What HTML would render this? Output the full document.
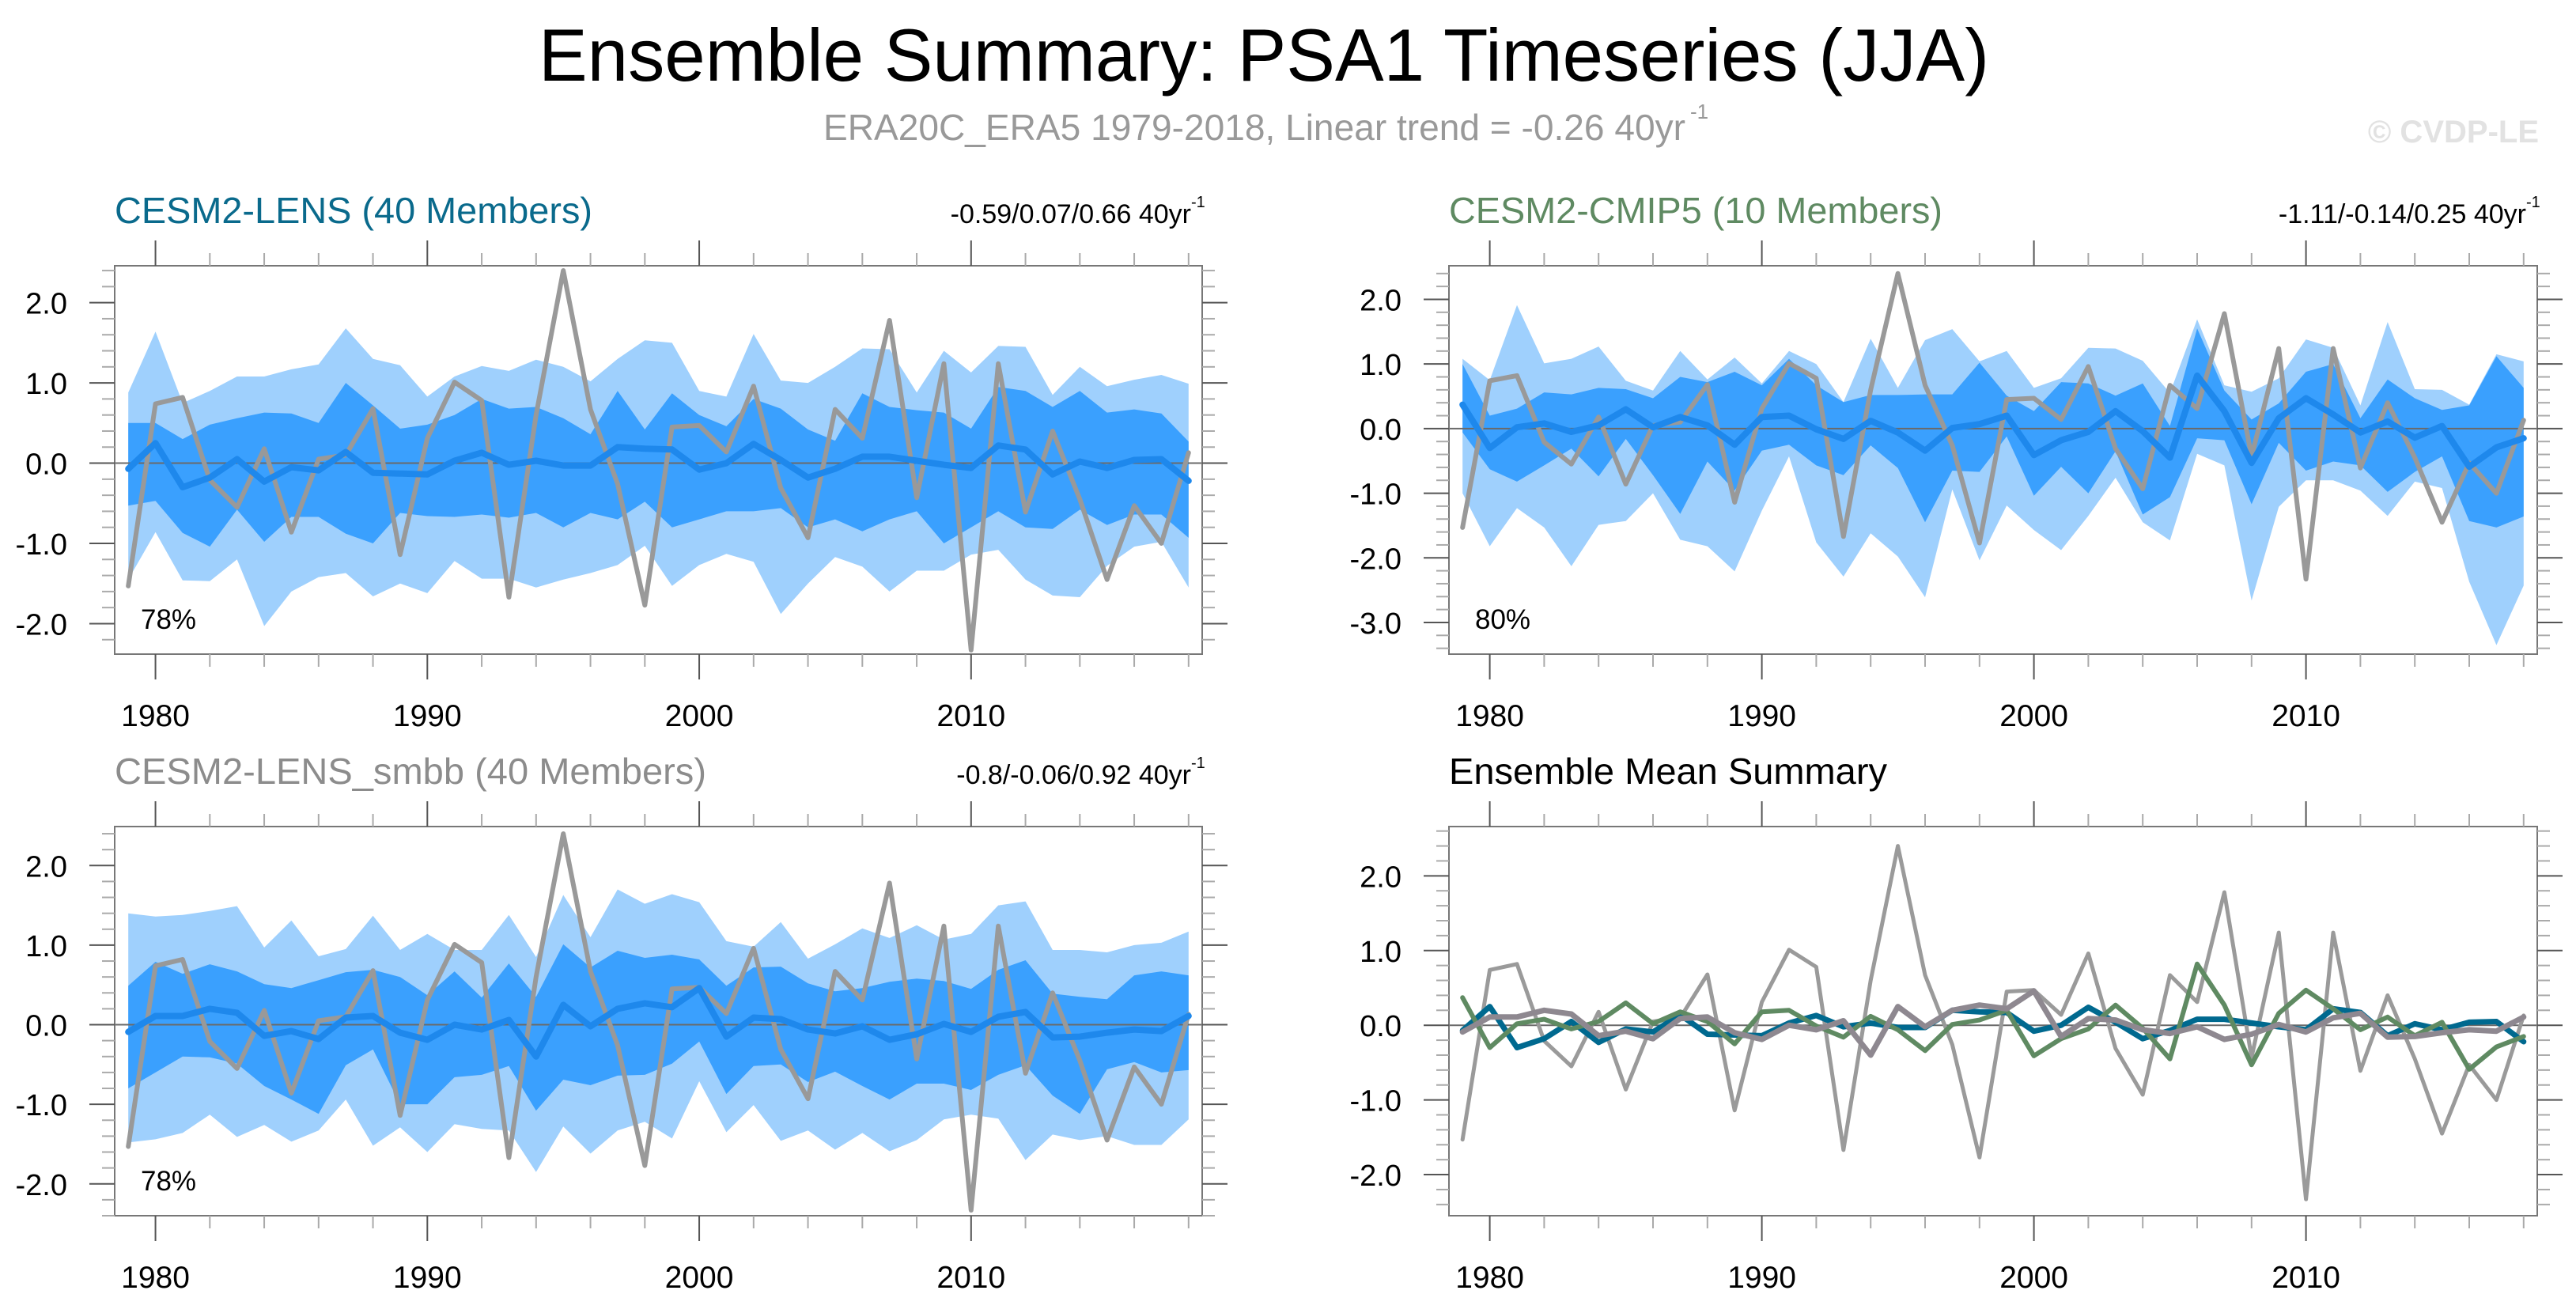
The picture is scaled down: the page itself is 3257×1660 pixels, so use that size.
<!DOCTYPE html>
<html><head><meta charset="utf-8"><style>
html,body{margin:0;padding:0;background:#fff;}
svg{display:block;font-family:"Liberation Sans",sans-serif;}
</style></head><body>
<svg id="chart" width="3257" height="1660" viewBox="0 0 3257 1660" xmlns="http://www.w3.org/2000/svg">
<text x="1598" y="102" font-size="94" text-anchor="middle" textLength="1834" lengthAdjust="spacingAndGlyphs">Ensemble Summary: PSA1 Timeseries (JJA)</text>
<text x="1041" y="177" font-size="46" fill="#999999" textLength="1090" lengthAdjust="spacingAndGlyphs">ERA20C_ERA5 1979-2018, Linear trend = -0.26 40yr</text>
<text x="2137" y="150" font-size="26" fill="#999999">-1</text>
<text x="3210" y="180" font-size="40" font-weight="bold" fill="#e2e2e2" text-anchor="end">© CVDP-LE</text>
<g id="panels"></g>
</svg>
<script>
// ---- data ----
const years = [1979,1980,1981,1982,1983,1984,1985,1986,1987,1988,1989,1990,1991,1992,1993,1994,1995,1996,1997,1998,1999,2000,2001,2002,2003,2004,2005,2006,2007,2008,2009,2010,2011,2012,2013,2014,2015,2016,2017,2018];
const obsValues = [-1.53,0.74,0.82,-0.21,-0.55,0.18,-0.86,0.05,0.1,0.68,-1.14,0.31,1.01,0.78,-1.67,0.6,2.4,0.67,-0.26,-1.77,0.45,0.47,0.14,0.96,-0.31,-0.93,0.67,0.31,1.78,-0.43,1.24,-2.33,1.24,-0.61,0.4,-0.45,-1.45,-0.53,-1.0,0.13];

const lensMean = [-0.07,0.25,-0.3,-0.18,0.05,-0.23,-0.05,-0.09,0.14,-0.12,-0.13,-0.14,0.03,0.13,-0.02,0.03,-0.03,-0.03,0.2,0.18,0.17,-0.08,0.0,0.24,0.04,-0.18,-0.07,0.08,0.08,0.03,-0.02,-0.06,0.22,0.17,-0.14,0.02,-0.06,0.04,0.05,-0.22];
const lensOuterHi = [0.88,1.64,0.75,0.9,1.08,1.08,1.17,1.23,1.68,1.3,1.22,0.83,1.08,1.21,1.15,1.29,1.2,1.02,1.3,1.53,1.5,0.9,0.83,1.61,1.03,1.0,1.2,1.43,1.42,0.88,1.4,1.13,1.46,1.45,0.85,1.2,0.96,1.04,1.1,0.99];
const lensOuterLo = [-1.45,-0.86,-1.46,-1.47,-1.2,-2.03,-1.6,-1.42,-1.37,-1.66,-1.5,-1.62,-1.22,-1.44,-1.44,-1.55,-1.45,-1.37,-1.27,-1.03,-1.53,-1.27,-1.13,-1.23,-1.88,-1.5,-1.17,-1.29,-1.6,-1.34,-1.34,-1.14,-1.08,-1.45,-1.65,-1.67,-1.28,-1.04,-0.98,-1.55];
const lensInnerHi = [0.5,0.5,0.3,0.48,0.56,0.63,0.62,0.5,1.0,0.72,0.43,0.48,0.6,0.8,0.68,0.7,0.56,0.36,0.9,0.42,0.87,0.6,0.46,0.8,0.68,0.42,0.28,0.87,0.7,0.66,0.63,0.43,0.95,0.9,0.7,0.9,0.63,0.67,0.62,0.27];
const lensInnerLo = [-0.53,-0.47,-0.87,-1.04,-0.58,-0.98,-0.67,-0.67,-0.88,-1.0,-0.62,-0.66,-0.67,-0.64,-0.68,-0.62,-0.8,-0.62,-0.7,-0.48,-0.8,-0.7,-0.6,-0.6,-0.56,-0.8,-0.7,-0.85,-0.7,-0.6,-1.0,-0.8,-0.6,-0.8,-0.82,-0.58,-0.77,-0.64,-0.64,-0.93];

const cmipMean = [0.37,-0.3,0.02,0.08,-0.05,0.05,0.3,0.02,0.18,0.05,-0.25,0.18,0.2,-0.01,-0.16,0.12,-0.06,-0.34,0.01,0.07,0.2,-0.41,-0.18,-0.05,0.27,-0.04,-0.45,0.82,0.27,-0.53,0.16,0.47,0.22,-0.06,0.11,-0.14,0.04,-0.59,-0.29,-0.15];
const cmipOuterHi = [1.08,0.75,1.91,1.01,1.08,1.27,0.74,0.59,1.2,0.76,1.1,0.7,1.2,1.0,0.41,1.39,0.63,1.37,1.54,1.04,1.2,0.63,0.78,1.25,1.24,1.05,0.55,1.69,0.67,0.57,0.78,1.38,1.25,0.36,1.65,0.61,0.6,0.37,1.15,1.04];
const cmipOuterLo = [-1.0,-1.82,-1.23,-1.53,-2.13,-1.49,-1.43,-1.0,-1.72,-1.82,-2.21,-1.27,-0.43,-1.76,-2.29,-1.62,-1.98,-2.61,-0.94,-2.04,-1.19,-1.57,-1.88,-1.35,-0.76,-1.45,-1.73,-0.39,-0.57,-2.66,-1.21,-0.8,-0.8,-0.96,-1.35,-0.82,-0.92,-2.37,-3.35,-2.43];
const cmipInnerHi = [1.0,0.2,0.31,0.56,0.53,0.63,0.61,0.47,0.8,0.72,0.88,0.67,1.08,0.67,0.41,0.52,0.52,0.53,0.53,1.02,0.51,0.27,0.72,0.7,0.51,0.7,0.04,1.55,0.59,0.14,0.39,0.88,1.0,0.16,0.76,0.47,0.29,0.36,1.12,0.63];
const cmipInnerLo = [-0.06,-0.63,-0.82,-0.57,-0.31,-0.74,-0.16,-0.72,-1.32,-0.51,-0.96,-0.34,-0.25,-0.57,-0.72,-0.26,-0.61,-1.45,-0.65,-0.67,-0.12,-1.04,-0.59,-1.0,-0.35,-1.33,-1.06,-0.15,-0.18,-1.17,-0.22,-0.65,-0.51,-0.57,-0.98,-0.67,-0.43,-1.43,-1.53,-1.36];

const smbbMean = [-0.09,0.11,0.11,0.2,0.15,-0.14,-0.08,-0.18,0.09,0.11,-0.1,-0.19,0.0,-0.06,0.06,-0.4,0.25,-0.02,0.2,0.27,0.22,0.46,-0.15,0.09,0.07,-0.06,-0.11,-0.02,-0.19,-0.12,0.01,-0.09,0.1,0.16,-0.16,-0.15,-0.1,-0.06,-0.08,0.11];
const smbbOuterHi = [1.40,1.36,1.38,1.43,1.49,0.97,1.31,0.86,0.95,1.37,0.94,1.14,0.94,0.94,1.38,0.85,1.63,1.10,1.70,1.52,1.64,1.54,1.05,0.98,1.29,0.83,1.01,1.21,1.09,1.25,1.07,1.14,1.50,1.55,0.94,0.94,0.91,1.0,1.03,1.17];
const smbbOuterLo = [-1.48,-1.44,-1.36,-1.13,-1.41,-1.26,-1.47,-1.33,-0.94,-1.52,-1.29,-1.6,-1.25,-1.31,-1.33,-1.85,-1.28,-1.62,-1.33,-1.22,-1.43,-0.71,-1.35,-1.01,-1.46,-1.33,-1.57,-1.36,-1.59,-1.45,-1.19,-1.13,-1.18,-1.7,-1.38,-1.45,-1.40,-1.51,-1.51,-1.19];
const smbbInnerHi = [0.49,0.79,0.64,0.76,0.67,0.51,0.46,0.56,0.66,0.69,0.6,0.37,0.67,0.34,0.77,0.35,1.01,0.72,0.93,0.84,0.88,0.82,0.49,0.72,0.73,0.52,0.42,0.46,0.54,0.58,0.55,0.45,0.69,0.81,0.39,0.35,0.32,0.62,0.67,0.62];
const smbbInnerLo = [-0.80,-0.60,-0.40,-0.41,-0.49,-0.77,-0.94,-1.12,-0.51,-0.31,-1.0,-1.0,-0.66,-0.63,-0.52,-1.08,-0.69,-0.76,-0.64,-0.63,-0.49,-0.21,-0.87,-0.52,-0.50,-0.72,-0.59,-0.77,-0.94,-0.74,-0.74,-0.82,-0.63,-0.51,-0.89,-1.12,-0.56,-0.47,-0.60,-0.57];

const xTickLabels = [1980,1990,2000,2010];
const yTicksFour = [-2,-1,0,1,2];
const yTicksFive = [-3,-2,-1,0,1,2];

// ---- drawing ----
const NS = 'http://www.w3.org/2000/svg';
const root = document.getElementById('panels');
function el(tag, attrs, parent, text) {
  const e = document.createElementNS(NS, tag);
  for (const k in attrs) e.setAttribute(k, attrs[k]);
  if (text !== undefined) e.textContent = text;
  (parent || root).appendChild(e);
  return e;
}
function panel(cfg) {
  const g = el('g', {});
  
  
  const X0 = 1978.5, X1 = 2018.5;
  const sx = v => cfg.x0 + (v - X0) / (X1 - X0) * (cfg.x1 - cfg.x0);
  const sy = v => cfg.y0 + (cfg.ymax - v) / (cfg.ymax - cfg.ymin) * (cfg.y1 - cfg.y0);
  // bands
  function band(hi, lo, color, name) {
    let d = '';
    years.forEach((yr, i) => { d += (i ? 'L' : 'M') + sx(yr).toFixed(1) + ',' + sy(hi[i]).toFixed(1); });
    for (let i = years.length - 1; i >= 0; i--) d += 'L' + sx(years[i]).toFixed(1) + ',' + sy(lo[i]).toFixed(1);
    const p = el('path', {d: d + 'Z', fill: color}, g);
    
    
  }
  function line(vals, color, w, name) {
    const pts = years.map((yr, i) => sx(yr).toFixed(1) + ',' + sy(vals[i]).toFixed(1)).join(' ');
    const p = el('polyline', {points: pts, fill: 'none', stroke: color, 'stroke-width': w, 'stroke-linejoin': 'round', 'stroke-linecap': 'round'}, g);
    
    
  }
  if (cfg.bands) {
    band(cfg.bands[0], cfg.bands[1], '#9fd0fd', 'outer-spread-band');
    band(cfg.bands[2], cfg.bands[3], '#3aa0fe', 'inner-spread-band');
  }
  const zl = el('line', {x1: cfg.x0, x2: cfg.x1, y1: sy(0), y2: sy(0), stroke: '#6a6a6a', 'stroke-width': 2}, g);
  
  
  cfg.lines.forEach(l => line(l.v, l.c, l.w, l.n));
  // frame
  const fr = el('rect', {x: cfg.x0, y: cfg.y0, width: cfg.x1 - cfg.x0, height: cfg.y1 - cfg.y0, fill: 'none', stroke: '#777', 'stroke-width': 2}, g);
  
  
  // x ticks
  for (let yr = 1980; yr <= 2018; yr += 2) {
    const major = yr % 10 === 0;
    const L = major ? 32 : 16, c = major ? '#555' : '#aaa';
    el('line', {x1: sx(yr), x2: sx(yr), y1: cfg.y0, y2: cfg.y0 - L, stroke: c, 'stroke-width': 2}, g);
    el('line', {x1: sx(yr), x2: sx(yr), y1: cfg.y1, y2: cfg.y1 + L, stroke: c, 'stroke-width': 2}, g);
  }
  xTickLabels.forEach(yr => {
    const t = el('text', {x: sx(yr), y: cfg.y1 + 91, 'font-size': 39, 'text-anchor': 'middle'}, g, String(yr));
    
    
  });
  // y ticks
  const start = Math.ceil(cfg.ymin * 5), end = Math.floor(cfg.ymax * 5);
  for (let k = start; k <= end; k++) {
    const major = k % 5 === 0;
    const L = major ? 32 : 16, c = major ? '#555' : '#aaa';
    const y = sy(k / 5);
    el('line', {x1: cfg.x0, x2: cfg.x0 - L, y1: y, y2: y, stroke: c, 'stroke-width': 2}, g);
    el('line', {x1: cfg.x1, x2: cfg.x1 + L, y1: y, y2: y, stroke: c, 'stroke-width': 2}, g);
  }
  cfg.yticks.forEach(v => {
    const t = el('text', {x: cfg.x0 - 60, y: sy(v) + 14, 'font-size': 38, 'text-anchor': 'end'}, g, v.toFixed(1));
    
    
  });
  // titles
  const tt = el('text', {x: cfg.x0, y: cfg.y0 - 54, 'font-size': 46, fill: cfg.titleColor, textLength: cfg.titleLen, lengthAdjust: 'spacingAndGlyphs'}, g, cfg.title);
  
  
  if (cfg.trend) {
    const tr = el('text', {x: cfg.x1 - 14, y: cfg.y0 - 54, 'font-size': 34, 'text-anchor': 'end'}, g, cfg.trend);
    
    
    const sup = el('text', {x: cfg.x1 - 14, y: cfg.y0 - 74, 'font-size': 20}, g, '-1');
    
    
  }
  if (cfg.pct) {
    const pc = el('text', {x: cfg.x0 + 33, y: cfg.y1 - 32, 'font-size': 35}, g, cfg.pct);
    
    
  }
}

panel({name: 'cesm2-lens-panel', x0: 145, x1: 1520, y0: 336, y1: 827, ymin: -2.38, ymax: 2.46,
  bands: [lensOuterHi, lensOuterLo, lensInnerHi, lensInnerLo],
  lines: [{v: obsValues, c: '#999999', w: 6, n: 'observed-line'}, {v: lensMean, c: '#1e88ec', w: 8, n: 'ensemble-mean-line'}],
  yticks: yTicksFour, title: 'CESM2-LENS (40 Members)', titleColor: '#0a6a8c', titleLen: 604,
  trend: '-0.59/0.07/0.66 40yr', pct: '78%'});
panel({name: 'cesm2-cmip5-panel', x0: 1832, x1: 3208, y0: 336, y1: 827, ymin: -3.49, ymax: 2.52,
  bands: [cmipOuterHi, cmipOuterLo, cmipInnerHi, cmipInnerLo],
  lines: [{v: obsValues, c: '#999999', w: 6, n: 'observed-line'}, {v: cmipMean, c: '#1e88ec', w: 8, n: 'ensemble-mean-line'}],
  yticks: yTicksFive, title: 'CESM2-CMIP5 (10 Members)', titleColor: '#5f8a62', titleLen: 624,
  trend: '-1.11/-0.14/0.25 40yr', pct: '80%'});
panel({name: 'cesm2-lens-smbb-panel', x0: 145, x1: 1520, y0: 1045, y1: 1537, ymin: -2.40, ymax: 2.49,
  bands: [smbbOuterHi, smbbOuterLo, smbbInnerHi, smbbInnerLo],
  lines: [{v: obsValues, c: '#999999', w: 6, n: 'observed-line'}, {v: smbbMean, c: '#1e88ec', w: 8, n: 'ensemble-mean-line'}],
  yticks: yTicksFour, title: 'CESM2-LENS_smbb (40 Members)', titleColor: '#8c8c8c', titleLen: 748,
  trend: '-0.8/-0.06/0.92 40yr', pct: '78%'});
panel({name: 'ensemble-mean-summary-panel', x0: 1832, x1: 3208, y0: 1045, y1: 1537, ymin: -2.55, ymax: 2.66,
  bands: null,
  lines: [{v: obsValues, c: '#9a9a9a', w: 5, n: 'observed-line'},
          {v: lensMean, c: '#00698f', w: 7, n: 'cesm2-lens-mean-line'},
          {v: cmipMean, c: '#5f8a62', w: 6, n: 'cesm2-cmip5-mean-line'},
          {v: smbbMean, c: '#8e8890', w: 7, n: 'cesm2-lens-smbb-mean-line'}],
  yticks: yTicksFour, title: 'Ensemble Mean Summary', titleColor: '#000', titleLen: 554,
  trend: null, pct: null});
</script>
</body></html>
